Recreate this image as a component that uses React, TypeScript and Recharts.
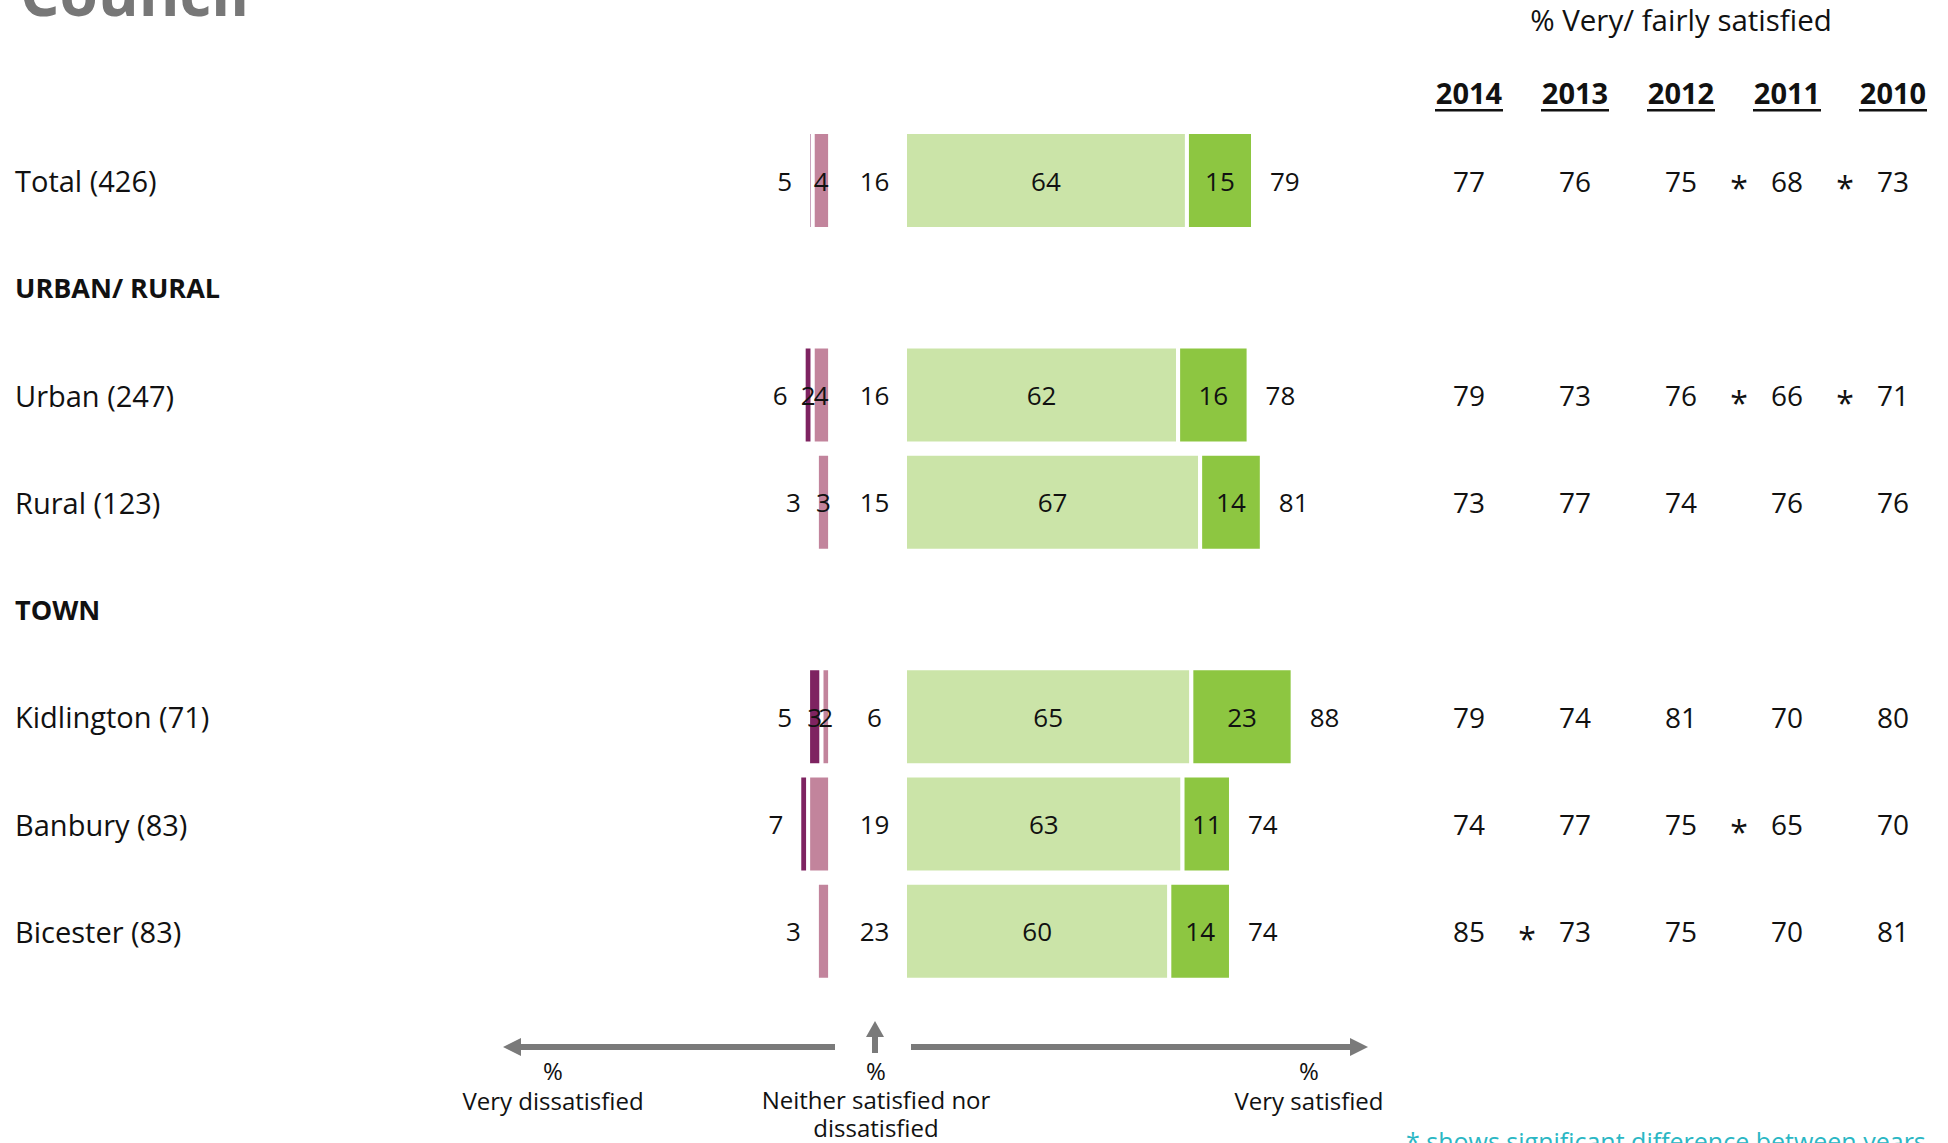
import { BarChart, Bar, XAxis, YAxis, LabelList } from "recharts";

const categories = [
  "Total (426)",
  "URBAN/ RURAL",
  "Urban (247)",
  "Rural (123)",
  "TOWN",
  "Kidlington (71)",
  "Banbury (83)",
  "Bicester (83)",
];
const headingRows = [false, true, false, false, true, false, false, false];

// % per row, 2014
const veryDissatisfied = [1, null, 2, 0, null, 3, 2, 0];
const fairlyDissatisfied = [4, null, 4, 3, null, 2, 5, 3];
const totalDissatisfied = [5, null, 6, 3, null, 5, 7, 3];
const neither = [16, null, 16, 15, null, 6, 19, 23];
const fairlySatisfied = [64, null, 62, 67, null, 65, 63, 60];
const verySatisfied = [15, null, 16, 14, null, 23, 11, 14];
const totalSatisfied = [79, null, 78, 81, null, 88, 74, 74];
// the original only labels some of the small dissatisfied segments
const showSegmentLabels = [true, false, true, true, false, true, false, false];

// trend table: % very/ fairly satisfied
const years = ["2014", "2013", "2012", "2011", "2010"];
const sat2014 = [77, null, 79, 73, null, 79, 74, 85];
const sat2013 = [76, null, 73, 77, null, 74, 77, 73];
const sat2012 = [75, null, 76, 74, null, 81, 75, 75];
const sat2011 = [68, null, 66, 76, null, 70, 65, 70];
const sat2010 = [73, null, 71, 76, null, 80, 70, 81];
// asterisk drawn after a year's value = significant change to the next column
const sig2014 = [false, false, false, false, false, false, false, true];
const sig2013 = [false, false, false, false, false, false, false, false];
const sig2012 = [true, false, true, false, false, false, true, false];
const sig2011 = [true, false, true, false, false, false, false, false];
const sig2010 = [false, false, false, false, false, false, false, false];

const yearValues = [sat2014, sat2013, sat2012, sat2011, sat2010];
const yearSig = [sig2014, sig2013, sig2012, sig2011, sig2010];

// white space left between the two sides, where the "neither" figure sits
const NEUTRAL_GAP = 17;

const rows = categories.map((name, i) => ({
  name,
  gap: neither[i] == null ? null : NEUTRAL_GAP,
  fairlySat: fairlySatisfied[i],
  verySat: verySatisfied[i],
  fairlyDiss: fairlyDissatisfied[i] == null ? null : -fairlyDissatisfied[i],
  veryDiss: veryDissatisfied[i] ? -veryDissatisfied[i] : null,
}));

const FONT = "'Open Sans', sans-serif";
const W = 1948;
const H = 1143;
const COL_W = 106;
const INK = "#111";

const DARK_PURPLE = "#7e2361";
const PINK = "#c2849c";
const LIGHT_GREEN = "#cbe4a8";
const GREEN = "#8dc641";
const ARROW = "#7a7a7a";

function box(p: any) {
  const vb = p.viewBox ?? p;
  const x = Math.min(vb.x, vb.x + vb.width);
  return { x, w: Math.abs(vb.width), cy: vb.y + vb.height / 2 };
}

// labels get the row name as value, so look the row up from it
const rowOf = (p: any) => categories.indexOf(p.value);

const centreLabel = (values: (number | null)[], onlyFlagged = false, min = 0) => (p: any) => {
  const i = rowOf(p);
  const v = values[i];
  if (i < 0 || v == null || v < min) return null;
  if (onlyFlagged && !showSegmentLabels[i]) return null;
  const b = box(p);
  return (
    <text x={b.x + b.w / 2} y={b.cy} textAnchor="middle" dominantBaseline="central" fontSize={26} fill={INK} fontFamily={FONT}>
      {v}
    </text>
  );
};

const neitherLabel = (p: any) => {
  const i = rowOf(p);
  const v = neither[i];
  if (i < 0 || v == null) return null;
  const b = box(p);
  return (
    <text x={b.x + b.w / 2 + 7} y={b.cy} textAnchor="middle" dominantBaseline="central" fontSize={26} fill={INK} fontFamily={FONT}>
      {v}
    </text>
  );
};

// total dissatisfied, left of the whole negative stack
const dissTotalLabel = (p: any) => {
  const i = rowOf(p);
  const fairly = fairlyDissatisfied[i];
  if (i < 0 || !fairly) return null;
  const b = box(p);
  const ppu = b.w / fairly;
  const left = b.x - (veryDissatisfied[i] ?? 0) * ppu;
  return (
    <text x={left - 16} y={b.cy} textAnchor="end" dominantBaseline="central" fontSize={26} fill={INK} fontFamily={FONT}>
      {totalDissatisfied[i]}
    </text>
  );
};

const satTotalLabel = (p: any) => {
  const i = rowOf(p);
  const v = totalSatisfied[i];
  if (i < 0 || v == null) return null;
  const b = box(p);
  return (
    <text x={b.x + b.w + 17} y={b.cy} textAnchor="start" dominantBaseline="central" fontSize={26} fill={INK} fontFamily={FONT}>
      {v}
    </text>
  );
};

const CategoryTick = (p: any) => {
  const i = categories.indexOf(p.payload.value);
  const heading = headingRows[i];
  return (
    <text x={15} y={p.y} textAnchor="start" dominantBaseline="central" fontSize={heading ? 27 : 29} fontWeight={heading ? 700 : 400} fill={INK} fontFamily={FONT}>
      {p.payload.value}
    </text>
  );
};

const yearTick = (col: number) => (p: any) => {
  const i = categories.indexOf(p.payload.value);
  const v = yearValues[col][i];
  if (v == null) return null;
  const cx = p.x + COL_W / 2;
  return (
    <g>
      <text x={cx} y={p.y} textAnchor="middle" dominantBaseline="central" fontSize={28} fill={INK} fontFamily={FONT}>
        {v}
      </text>
      {yearSig[col][i] && (
        <text x={cx + 58} y={p.y + 7} textAnchor="middle" dominantBaseline="central" fontSize={32} fill={INK} fontFamily={FONT}>
          *
        </text>
      )}
    </g>
  );
};

const YearHeader = (p: any) => {
  const vb = p.viewBox;
  const cx = vb.x + COL_W / 2;
  return (
    <g>
      <text x={cx} y={vb.y - 23} textAnchor="middle" fontSize={29} fontWeight={700} fill={INK} fontFamily={FONT}>
        {p.value}
      </text>
      <rect x={cx - 34} y={vb.y - 18} width={68} height={2.5} fill={INK} />
    </g>
  );
};

function Overlay() {
  const cap = { fontFamily: FONT, fontSize: 24, fill: INK, textAnchor: "middle" as const };
  return (
    <svg width={W} height={H} style={{ position: "absolute", left: 0, top: 0, pointerEvents: "none" }}>
      <text x={20} y={16} fontFamily={FONT} fontSize={62} fontWeight={700} fill="#777">
        Council
      </text>
      <text x={1681} y={31} fontFamily={FONT} fontSize={29.5} fill={INK} textAnchor="middle">
        % Very/ fairly satisfied
      </text>

      <rect x={520} y={1044} width={315} height={6} fill={ARROW} />
      <polygon points="503,1047 521,1038 521,1056" fill={ARROW} />
      <rect x={872} y={1035} width={6} height={18} fill={ARROW} />
      <polygon points="875,1021 866,1037 884,1037" fill={ARROW} />
      <rect x={911} y={1044} width={440} height={6} fill={ARROW} />
      <polygon points="1368,1047 1350,1038 1350,1056" fill={ARROW} />

      <text x={553} y={1080} {...cap}>%</text>
      <text x={553} y={1110} {...cap}>Very dissatisfied</text>
      <text x={876} y={1080} {...cap}>%</text>
      <text x={876} y={1109} {...cap}>Neither satisfied nor</text>
      <text x={876} y={1137} {...cap}>dissatisfied</text>
      <text x={1309} y={1080} {...cap}>%</text>
      <text x={1309} y={1110} {...cap}>Very satisfied</text>

      <text x={1406} y={1151} fontFamily={FONT} fontSize={25} fill="#2bb7c4">
        * shows significant difference between years
      </text>
    </svg>
  );
}

// right-hand axes: 2014 must sit next to the plot. Ids sort with 2014 first and
// 2014 is declared last, so it lands there whichever way the axes get ordered.
const yearAxes = years.map((year, col) => ({ year, col, id: `c${col}` })).reverse();

export default function App() {
  return (
    <div style={{ position: "absolute", left: 0, top: 0, width: W, height: H, background: "#fff", fontFamily: FONT }}>
      <BarChart
        width={W}
        height={H}
        data={rows}
        layout="vertical"
        stackOffset="sign"
        barSize={97}
        margin={{ top: 127, right: 2, bottom: 158, left: 0 }}
      >
        <XAxis type="number" domain={[-20, 133]} hide />
        <YAxis
          yAxisId="main"
          type="category"
          dataKey="name"
          width={742}
          axisLine={false}
          tickLine={false}
          interval={0}
          tick={CategoryTick}
        />
        {yearAxes.map(({ year, col, id }) => (
          <YAxis
            key={id}
            yAxisId={id}
            orientation="right"
            type="category"
            dataKey="name"
            width={COL_W}
            axisLine={false}
            tickLine={false}
            tickSize={0}
            tickMargin={0}
            interval={0}
            tick={yearTick(col)}
            label={{ value: year, content: YearHeader }}
          />
        ))}

        <Bar dataKey="gap" stackId="s" yAxisId="main" fill="transparent" isAnimationActive={false}>
          <LabelList dataKey="name" content={neitherLabel} />
        </Bar>
        <Bar dataKey="fairlySat" stackId="s" yAxisId="main" fill={LIGHT_GREEN} stroke="#fff" strokeWidth={4} isAnimationActive={false}>
          <LabelList dataKey="name" content={centreLabel(fairlySatisfied)} />
        </Bar>
        <Bar dataKey="verySat" stackId="s" yAxisId="main" fill={GREEN} stroke="#fff" strokeWidth={4} isAnimationActive={false}>
          <LabelList dataKey="name" content={centreLabel(verySatisfied)} />
          <LabelList dataKey="name" content={satTotalLabel} />
        </Bar>
        <Bar dataKey="fairlyDiss" stackId="s" yAxisId="main" fill={PINK} stroke="#fff" strokeWidth={4} isAnimationActive={false}>
          <LabelList dataKey="name" content={centreLabel(fairlyDissatisfied, true)} />
          <LabelList dataKey="name" content={dissTotalLabel} />
        </Bar>
        <Bar dataKey="veryDiss" stackId="s" yAxisId="main" fill={DARK_PURPLE} stroke="#fff" strokeWidth={4} isAnimationActive={false}>
          <LabelList dataKey="name" content={centreLabel(veryDissatisfied, true, 2)} />
        </Bar>
      </BarChart>
      <Overlay />
    </div>
  );
}
